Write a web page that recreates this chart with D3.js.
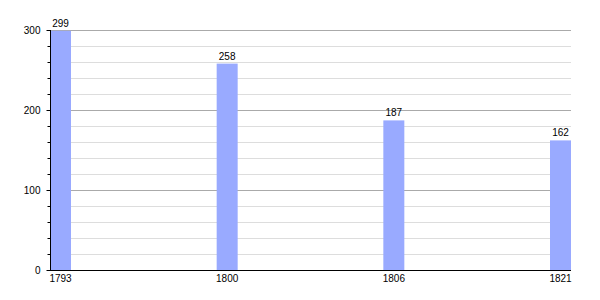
<!DOCTYPE html>
<html>
<head>
<meta charset="utf-8">
<script src="https://cdn.jsdelivr.net/npm/d3@7"></script>
<style>
  body { margin: 0; background: #fff; }
  svg { font-family: "Liberation Sans", Arial, sans-serif; font-size: 10px; }
</style>
</head>
<body>
<div id="chart"></div>
<script>
// population by year
var years = ["1793", "1800", "1806", "1821"];
var values = [299, 258, 187, 162];
var majorTicks = [0, 100, 200, 300];

var width = 600, height = 300;
var left = 50, top_ = 30, bottom = 270;
var barW = 21;

var x = d3.scalePoint().domain(years).range([left, 550]);
var y = d3.scaleLinear().domain([0, 300]).range([bottom, top_]);
var right = x(years[years.length - 1]) + barW;

var svg = d3.select("#chart").append("svg")
    .attr("width", width)
    .attr("height", height);

// minor grid every 20
var minor = d3.range(0, 301, 20).filter(function(v) { return v % 100 != 0; });
svg.selectAll(".minor")
    .data(minor)
  .enter().append("line")
    .attr("x1", left).attr("x2", right)
    .attr("y1", function(d) { return y(d) + 0.5; })
    .attr("y2", function(d) { return y(d) + 0.5; })
    .style("stroke", "#dddddd");

svg.selectAll(".major")
    .data(majorTicks.slice(1))
  .enter().append("line")
    .attr("x1", left).attr("x2", right)
    .attr("y1", function(d) { return y(d) + 0.5; })
    .attr("y2", function(d) { return y(d) + 0.5; })
    .style("stroke", "#aaaaaa");

// bars
var data = years.map(function(d, i) { return {year: d, value: values[i]}; });

svg.selectAll(".bar")
    .data(data)
  .enter().append("rect")
    .attr("x", function(d) { return x(d.year); })
    .attr("width", barW)
    .attr("y", function(d) { return y(d.value); })
    .attr("height", function(d) { return bottom - y(d.value); })
    .style("fill", "#99aaff");

svg.selectAll(".val")
    .data(data)
  .enter().append("text")
    .attr("x", function(d) { return x(d.year) + barW / 2; })
    .attr("y", function(d) { return y(d.value) - 4; })
    .attr("text-anchor", "middle")
    .style("fill", "#000")
    .text(function(d) { return d.value; });

// y axis
var yAxis = svg.append("g")
    .attr("transform", "translate(" + (left + 0.5) + ",0)")
    .call(d3.axisLeft(y).tickValues(majorTicks).tickSize(4).tickPadding(6));
yAxis.select(".domain").attr("d", "M0," + top_ + "V" + (bottom + 0.5));
yAxis.selectAll("text").style("font-size", "10px").style("font-family", "Liberation Sans, Arial, sans-serif");

svg.append("g")
    .attr("transform", "translate(" + (left + 0.5) + ",0)")
    .call(d3.axisLeft(y).tickValues(minor).tickSize(3).tickFormat(""))
    .select(".domain").remove();

// x axis
svg.append("line")
    .attr("x1", left).attr("x2", right)
    .attr("y1", bottom + 0.5).attr("y2", bottom + 0.5)
    .style("stroke", "#000");

svg.selectAll(".xl")
    .data(years)
  .enter().append("text")
    .attr("x", function(d) { return x(d) + barW / 2; })
    .attr("y", bottom + 12)
    .attr("text-anchor", "middle")
    .style("fill", "#000")
    .text(function(d) { return d; });
</script>
</body>
</html>
